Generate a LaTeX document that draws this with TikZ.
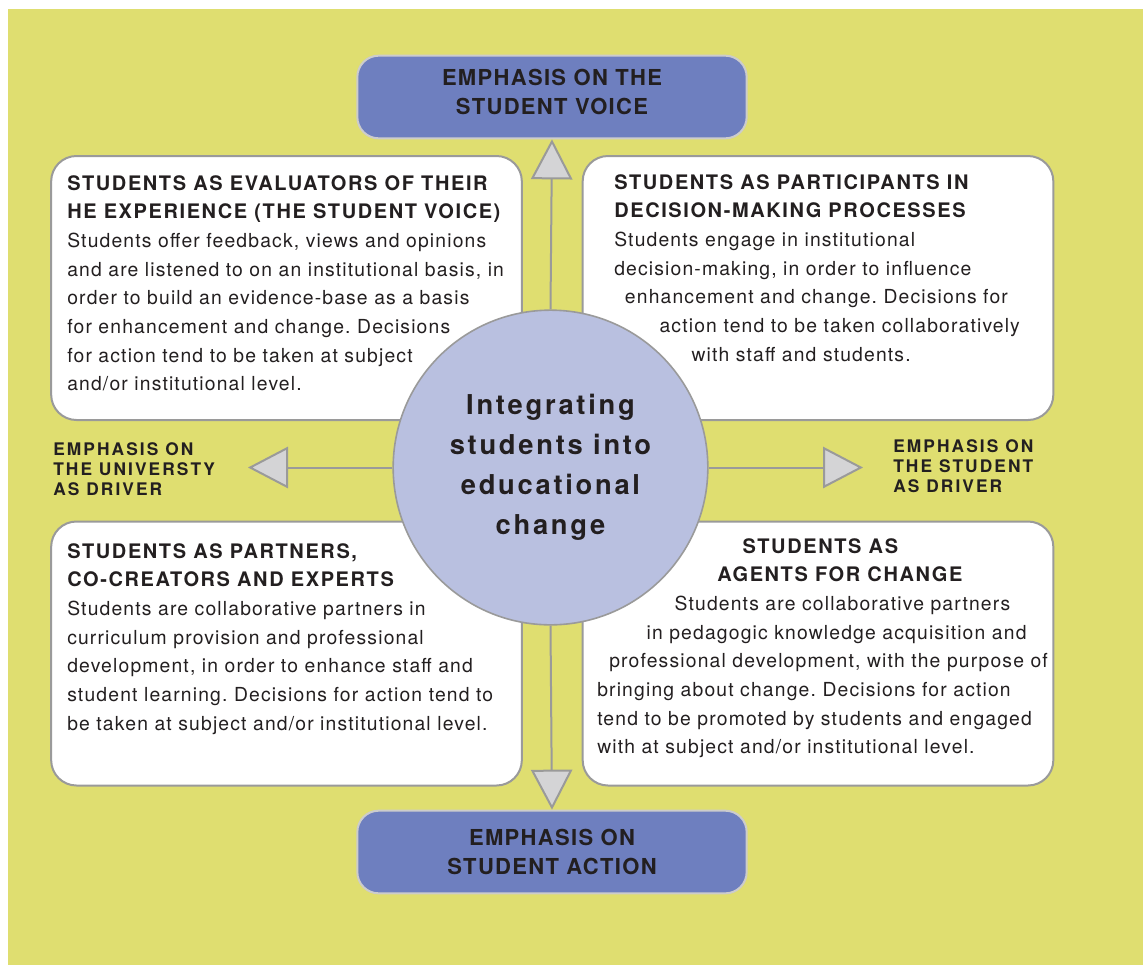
\documentclass[tikz,border=0pt]{standalone}
\usepackage{fontspec}
\setmainfont{TeX Gyre Heros}
\newfontfamily\txtfont[LetterSpace=6]{TeX Gyre Heros}
\newfontfamily\hdfont[LetterSpace=8]{TeX Gyre Heros}
\newfontfamily\hubfont[LetterSpace=10]{TeX Gyre Heros}
\newfontfamily\tagfont[LetterSpace=12]{TeX Gyre Heros}
\newfontfamily\boxfont[LetterSpace=6]{TeX Gyre Heros}
\usetikzlibrary{arrows.meta}
\frenchspacing
\definecolor{paper}{HTML}{DFDE70}
\definecolor{slate}{HTML}{6E7FBF}
\definecolor{hubblue}{HTML}{B9C0E0}
\definecolor{ink}{HTML}{231F20}
\definecolor{rim}{HTML}{9A9A9A}
\definecolor{tipgray}{HTML}{D4D4D6}
\newcommand{\hd}{\hdfont\bfseries\fontsize{15}{21.5}\selectfont}
\tikzset{
  card/.style={draw=rim,line width=1.5pt,fill=white,rounded corners=19pt,
    minimum width=353pt,minimum height=198pt},
  emph/.style={draw=black!20,line width=1.5pt,fill=slate,rounded corners=16pt,
    minimum width=292pt,minimum height=62pt,align=center,text=ink,
    font=\boxfont\bfseries\fontsize{16.5}{21.5}\selectfont},
  txt/.style={anchor=north west,inner sep=0pt,align=left,text=ink,
    font=\txtfont\fontsize{14.5}{21.5}\selectfont},
  tag/.style={anchor=north west,inner sep=0pt,align=left,text=ink,
    font=\tagfont\bfseries\fontsize{13}{15}\selectfont},
  flow/.style={draw=rim,line width=1.5pt,
    -{Triangle[length=30pt,width=31pt,fill=tipgray]}}
}
\begin{document}
\begin{tikzpicture}[x=0.75pt,y=-0.75pt]
\useasboundingbox (0,0) rectangle (1143,965);
\fill[paper] (8,9) rectangle (1143,965);
% the four quadrants
\node[card] (evaluators) at (286.5,288) {};
\node[card] (participants) at (818,288) {};
\node[card] (partners) at (286.5,653.5) {};
\node[card] (agents) at (818,653.5) {};
\node[txt] (evaluatorstext) at (67,175) {{\hd STUDENTS AS EVALUATORS OF THEIR}\\{\hd HE EXPERIENCE (THE STUDENT VOICE)}\\
  Students offer feedback, views and opinions\\and are listened to on an institutional basis, in\\
  order to build an evidence-base as a basis\\for enhancement and change. Decisions\\
  for action tend to be taken at subject\\and/or institutional level.};
\node[txt] (participantstext) at (614,174) {{\hd STUDENTS AS PARTICIPANTS IN}\\{\hd DECISION-MAKING PROCESSES}\\
  Students engage in institutional\\decision-making, in order to influence\\
  \hspace*{8pt}enhancement and change. Decisions for\\\hspace*{34pt}action tend to be taken collaboratively\\
  \hspace*{58pt}with staff and students.};
\node[txt] (partnerstext) at (67,543) {{\hd STUDENTS AS PARTNERS,}\\{\hd CO-CREATORS AND EXPERTS}\\
  Students are collaborative partners in\\curriculum provision and professional\\
  development, in order to enhance staff and\\student learning. Decisions for action tend to\\
  be taken at subject and/or institutional level.};
\node[txt] (agentstext) at (597,538) {\hspace*{109pt}{\hd STUDENTS AS}\\\hspace*{90pt}{\hd AGENTS FOR CHANGE}\\
  \hspace*{58pt}Students are collaborative partners\\\hspace*{37pt}in pedagogic knowledge acquisition and\\
  \hspace*{9pt}professional development, with the purpose of\\bringing about change. Decisions for action\\
  tend to be promoted by students and engaged\\with at subject and/or institutional level.};
% centre and the four directions
\node[circle,draw=rim,line width=1.2pt,fill=hubblue,minimum size=236pt,inner sep=0pt,
  align=center,text=ink,font=\hubfont\bfseries\fontsize{20.5}{30}\selectfont] (hub) at (550.5,467.5)
  {Integrating\\students into\\educational\\change};
\node[emph,text depth=7.5pt] (voice) at (552,97) {EMPHASIS ON THE\\STUDENT VOICE};
\node[emph] (action) at (552,852) {EMPHASIS ON\\STUDENT ACTION};
\coordinate (university) at (248,467.5);
\coordinate (student) at (863,467.5);
\node[tag] (universitytag) at (53,442.5) {EMPHASIS ON\\THE UNIVERSTY\\AS DRIVER};
\node[tag] (studenttag) at (893,439.5) {EMPHASIS ON\\THE STUDENT\\AS DRIVER};
\draw[flow] (hub.north) -- (voice.south);
\draw[flow] (hub.south) -- (action.north);
\draw[flow] (hub.west) -- (university);
\draw[flow] (hub.east) -- (student);
\end{tikzpicture}
\end{document}
